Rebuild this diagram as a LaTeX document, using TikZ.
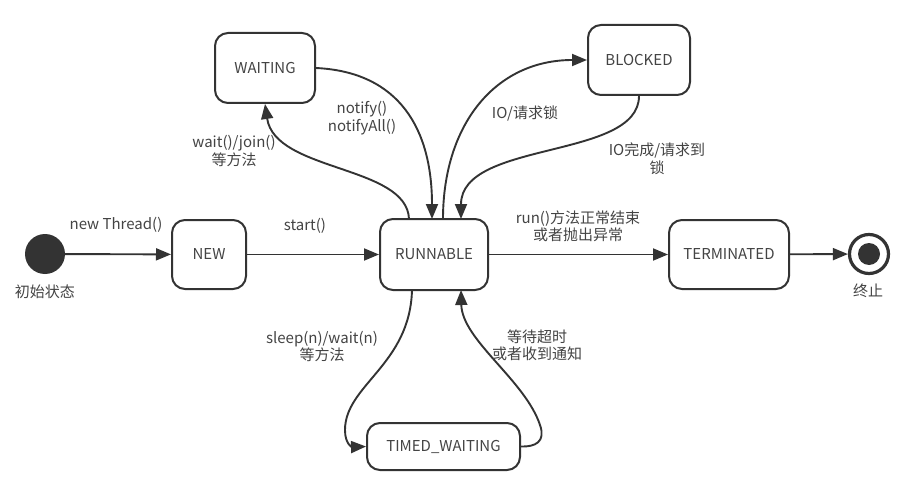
\documentclass[tikz,border=0pt]{standalone}
\usepackage{fontspec}
\setmainfont{Noto Sans CJK SC}
\usetikzlibrary{arrows.meta}
\definecolor{ln}{HTML}{333333}
\definecolor{tx}{HTML}{444444}
\tikzset{
  state/.style={draw=ln, line width=2pt, rounded corners=13pt, inner sep=0pt, text=tx, font=\fontsize{15}{17.5}\selectfont},
  lbl/.style={text=tx, font=\fontsize{15}{17.5}\selectfont, align=center, inner sep=0pt},
  conn/.style={draw=ln, line width=1.9pt, -{Triangle[length=15pt,width=12pt]}},
}
\begin{document}
\begin{tikzpicture}[x=1pt,y=-1pt]
\useasboundingbox (0,0) rectangle (914,495);
\fill[white] (0,0) rectangle (914,495);
% nodes
\node[circle, fill=ln, minimum size=40pt, inner sep=0pt] (start) at (45,254) {};
\node[lbl] (startl) at (45,292) {初始状态};
\node[state, minimum width=74pt, minimum height=69pt] (new) at (209,254.5) {NEW};
\node[state, minimum width=108pt, minimum height=71pt] (run) at (434,254.5) {RUNNABLE};
\node[state, minimum width=120pt, minimum height=69pt] (term) at (729,254.5) {TERMINATED};
\node[circle, draw=ln, line width=3.2pt, minimum size=39pt, inner sep=0pt] (end) at (869,254) {};
\node[circle, fill=ln, minimum size=22pt, inner sep=0pt] (endin) at (869,254) {};
\node[lbl] (endl) at (868,291) {终止};
\node[state, minimum width=100pt, minimum height=70pt] (wait) at (265,68) {WAITING};
\node[state, minimum width=102pt, minimum height=70pt] (blk) at (639,60) {BLOCKED};
\node[state, minimum width=153pt, minimum height=47pt] (tw) at (443.5,446.5) {TIMED\_WAITING};
% coordinates
\coordinate (rwt) at (409,219);
\coordinate (wr) at (432,219);
\coordinate (rbt) at (443,219);
\coordinate (br) at (461,219);
\coordinate (rtb) at (412,290);
\coordinate (tr) at (461,290);
% straight connectors
\draw[conn] (start) -- (new);
\draw[conn] (new) -- (run);
\draw[conn] (run) -- (term);
\draw[conn] (term) -- (end);
% curved connectors
\draw[conn] (rwt) .. controls (407,165) and (275,172) .. (wait.south);
\draw[conn] (wait.east) .. controls (400,72) and (432,130) .. (wr);
\draw[conn] (rbt) .. controls (443,125) and (495,60) .. (blk.west);
\draw[conn] (blk.south) .. controls (639,160) and (461,140) .. (br);
\draw[conn] (rtb) .. controls (410,365) and (345,385) .. (345,430) .. controls (345,444) and (352,447) .. (tw.west);
\draw[conn] (tw.east) .. controls (535,447) and (546,442) .. (540,425) .. controls (525,380) and (462,340) .. (tr);
% labels
\node[lbl] (l1) at (116,225) {new Thread()};
\node[lbl] (l2) at (305,226) {start()};
\node[lbl] (l3) at (578,226.5) {run()方法正常结束\\或者抛出异常};
\node[lbl] (l4) at (234,151) {wait()/join()\\等方法};
\node[lbl] (l5) at (362,118) {notify()\\notifyAll()};
\node[lbl] (l6) at (525,113) {IO/请求锁};
\node[lbl] (l7) at (657,158.5) {IO完成/请求到\\锁};
\node[lbl] (l8) at (322,346.5) {sleep(n)/wait(n)\\等方法};
\node[lbl] (l9) at (537,345.5) {等待超时\\或者收到通知};
\end{tikzpicture}
\end{document}
